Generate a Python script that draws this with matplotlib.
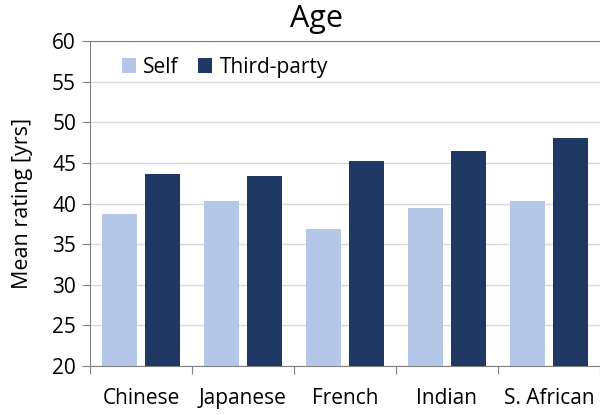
import matplotlib
matplotlib.use("Agg")
import matplotlib.pyplot as plt
import numpy as np

categories = ["Chinese", "Japanese", "French", "Indian", "S. African"]
self_values = [38.7, 40.3, 36.9, 39.4, 40.3]
third_party_values = [43.7, 43.4, 45.3, 46.5, 48.1]

plt.rcParams['font.family'] = ['Open Sans', 'DejaVu Sans']

fig = plt.figure(figsize=(6, 4.15), dpi=100)
ax = fig.add_axes([0.15, 0.118, 0.85, 0.783])

x = np.arange(len(categories))
width = 0.343
ax.bar(x - 0.206, self_values, width, color='#B4C7E7', label='Self', zorder=3)
ax.bar(x + 0.206, third_party_values, width, color='#1F3864', label='Third-party', zorder=3)

ax.set_xlim(-0.5, len(categories) - 0.5)
ax.set_ylim(20, 60)
ax.set_yticks(range(20, 61, 5))
ax.yaxis.grid(True, color='#D9D9D9', linewidth=1, zorder=0)

# category ticks sit on the group boundaries
ax.set_xticks(np.arange(len(categories) + 1) - 0.5)
ax.set_xticklabels([])
ax.set_xticks(x, minor=True)
ax.set_xticklabels(categories, minor=True)
ax.tick_params(axis='x', which='minor', length=0, pad=16, labelsize=15)
ax.tick_params(axis='x', which='major', length=6, color='#808080')
ax.tick_params(axis='y', length=6, color='#808080', labelsize=15, pad=4)

for side in ['left', 'bottom', 'top']:
    ax.spines[side].set_color('#808080')
ax.spines['right'].set_visible(False)

ax.set_ylabel('Mean rating [yrs]', fontsize=15.5, labelpad=14)
fig.text(0.527, 0.955, 'Age', fontsize=22, ha='center', va='center')

ax.legend(loc='upper left', ncol=2, frameon=False, fontsize=15,
          handlelength=0.7, handleheight=0.7, handletextpad=0.35,
          columnspacing=0.9, bbox_to_anchor=(0.025, 1.01))

plt.savefig('out.png', dpi=100)
